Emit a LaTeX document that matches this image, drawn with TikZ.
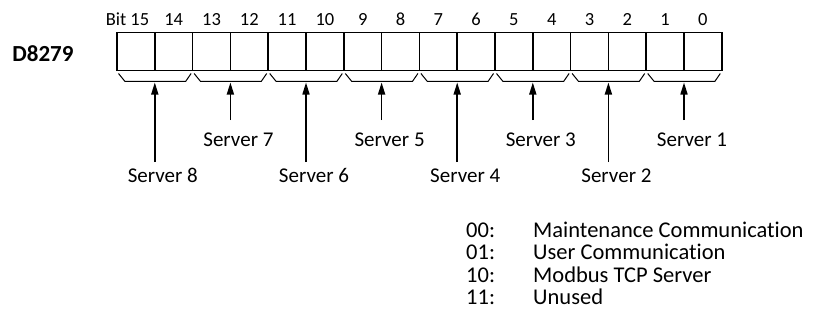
\documentclass[tikz,border=0pt]{standalone}
\usepackage{fontspec}
\setmainfont{Carlito}[Ligatures=NoCommon]
\usetikzlibrary{arrows.meta,calc}
\begin{document}
\begin{tikzpicture}[x=1pt,y=-1pt,
  cellbox/.style={draw,line width=1.5pt,minimum width=37.8pt,minimum height=38pt,inner sep=0pt,outer sep=0pt},
  bracestyle/.style={line width=1pt,line join=miter},
  ptr/.style={line width=1.6pt,-{Triangle[length=12pt,width=7pt]}},
  srv/.style={font=\fontsize{21}{25}\selectfont,inner sep=0pt},
  bitlbl/.style={font=\fontsize{18.5}{22}\selectfont,inner sep=0pt,anchor=base},
  leg/.style={font=\fontsize{22.5}{27}\selectfont,inner sep=0pt,anchor=base west}]
\useasboundingbox (0,0) rectangle (814,329);
\node[font=\bfseries\fontsize{23}{27}\selectfont,inner sep=0pt] (reg) at (43,54) {D8279};
\foreach \b in {0,...,15}{
  \pgfmathsetmacro{\cx}{117+(15-\b)*37.8+18.9}
  \node[cellbox] (c\b) at (\cx,51.5) {};
}
\foreach \b in {0,...,14}{
  \node[bitlbl] (b\b) at ($(c\b.north)+(0,-6.5)$) {\b};
}
\node[bitlbl,anchor=base east] (b15) at ($(c15.north)+(13.5,-6.5)$) {Bit 15};
\foreach \g/\name/\len in {0/8/1,1/7/0,2/6/1,3/5/0,4/4/1,5/3/0,6/2/1,7/1/0}{
  \pgfmathsetmacro{\L}{117+\g*75.6}
  \pgfmathsetmacro{\R}{\L+75.6}
  \pgfmathsetmacro{\M}{\L+37.8}
  \draw[bracestyle] (\L+1.5,73.5) -- (\L+8,81.5) coordinate (bl\g) -- (\R-7,81.5) -- (\R-1.5,73.5);
  \coordinate (tip\g) at (\M,82.5);
  \ifnum\len=1
    \coordinate (tail\g) at (\M,162);
    \node[srv] (s\g) at (\M+8,175.5) {Server \name};
  \else
    \coordinate (tail\g) at (\M,120);
    \node[srv] (s\g) at (\M+8,139.5) {Server \name};
  \fi
  \draw[ptr] (tail\g) -- (tip\g);
}
\node[leg] (k0) at (466,237) {00:};
\node[leg] (v0) at (533,237) {Maintenance Communication};
\node[leg] (k1) at (466,259.5) {01:};
\node[leg] (v1) at (533,259.5) {User Communication};
\node[leg] (k2) at (466,282) {10:};
\node[leg] (v2) at (533,282) {Modbus TCP Server};
\node[leg] (k3) at (466,304.5) {11:};
\node[leg] (v3) at (533,304.5) {Unused};
\end{tikzpicture}
\end{document}
